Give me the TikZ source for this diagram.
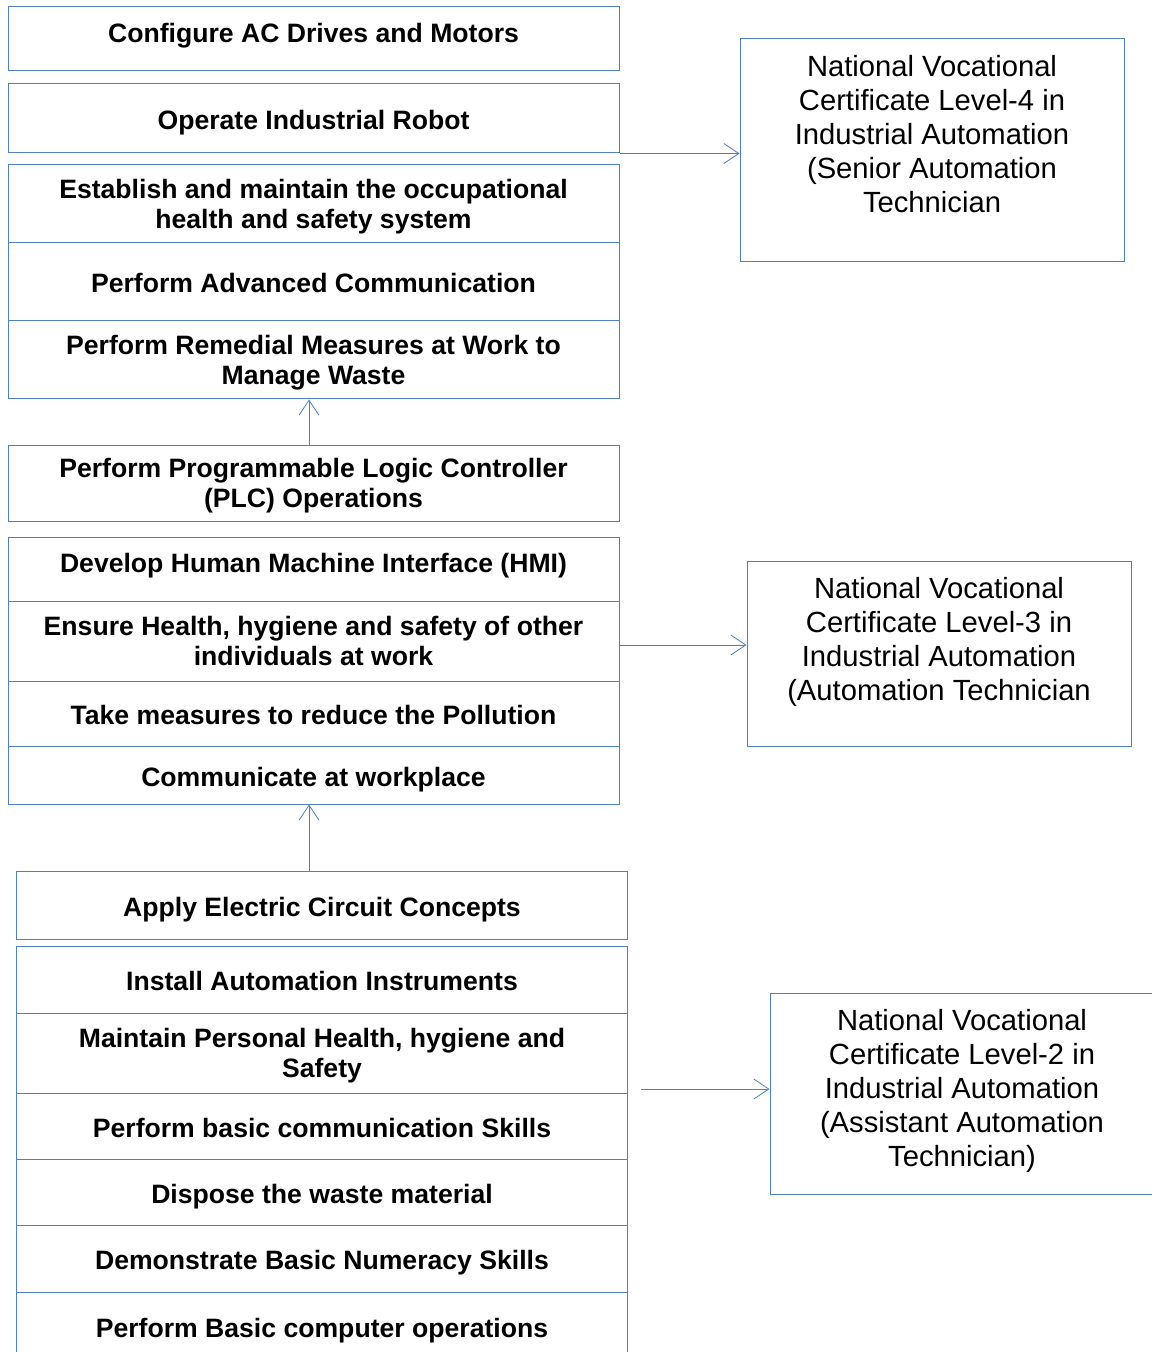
\documentclass[tikz,border=0pt]{standalone}
\usepackage{fontspec}
\setmainfont{Liberation Sans}
\usetikzlibrary{positioning, arrows.meta}
\definecolor{boxblue}{RGB}{79,129,189}

\begin{document}
\begin{tikzpicture}[
    x=0.5pt, y=-0.5pt,
    >={Straight Barb[length=7.5pt, width=10pt]},
    skill/.style={draw=boxblue, line width=0.5pt, minimum width=305.5pt, inner sep=0pt, align=center, font=\bfseries\fontsize{13.3}{15}\selectfont},
    oneline/.style={skill, text height=11pt, text depth=0pt},
    twoline/.style={skill, text depth=-2.5pt},
    cert/.style={draw=boxblue, line width=0.5pt, minimum width=192pt, inner sep=0pt},
    certtext/.style={align=center, inner sep=0pt, font=\fontsize{14.6}{17}\selectfont},
    flow/.style={->, draw=boxblue, line width=0.4pt},
]
\useasboundingbox (0,0) rectangle (1151,1352);

% Level-4 units
\node[oneline, minimum height=32pt, text height=3.5pt] (b1) at (313.5,39) {Configure AC Drives and Motors};
\node[oneline, minimum height=34.5pt] (b2) at (313.5,118.5) {Operate Industrial Robot};
\node[twoline, minimum height=39pt] (b3) at (313.5,204) {Establish and maintain the occupational\\health and safety system};
\node[oneline, minimum height=39pt] (b4) at (313.5,282) {Perform Advanced Communication};
\node[twoline, minimum height=39pt] (b5) at (313.5,360) {Perform Remedial Measures at Work to\\Manage Waste};

% Level-3 units
\node[twoline, minimum height=38pt] (b6) at (313.5,483) {Perform Programmable Logic Controller\\(PLC) Operations};
\node[oneline, minimum height=32pt, text height=3.5pt] (b7) at (313.5,569) {Develop Human Machine Interface (HMI)};
\node[twoline, minimum height=40pt] (b8) at (313.5,641) {Ensure Health, hygiene and safety of other\\individuals at work};
\node[oneline, minimum height=32.5pt] (b9) at (313.5,713.5) {Take measures to reduce the Pollution};
\node[oneline, minimum height=29pt] (b10) at (313.5,775) {Communicate at workplace};

% Level-2 units
\node[oneline, minimum height=34pt] (b11) at (322,905) {Apply Electric Circuit Concepts};
\node[oneline, minimum height=33.5pt] (b12) at (322,979.5) {Install Automation Instruments};
\node[twoline, minimum height=40pt] (b13) at (322,1053) {Maintain Personal Health, hygiene and\\Safety};
\node[oneline, minimum height=33pt] (b14) at (322,1126) {Perform basic communication Skills};
\node[oneline, minimum height=33pt] (b15) at (322,1192) {Dispose the waste material};
\node[oneline, minimum height=33.5pt] (b16) at (322,1258.5) {Demonstrate Basic Numeracy Skills};
\node[oneline, minimum height=34pt] (b17) at (322,1326) {Perform Basic computer operations};

% Certificates
\node[cert, minimum height=111.5pt] (l4) at (932,150.5) {};
\node[certtext, below=8pt of l4.north] (l4t) {National Vocational\\Certificate Level-4 in\\Industrial Automation\\(Senior Automation\\Technician};
\node[cert, minimum height=92.5pt] (l3) at (939,653.5) {};
\node[certtext, below=8pt of l3.north] (l3t) {National Vocational\\Certificate Level-3 in\\Industrial Automation\\(Automation Technician};
\node[cert, minimum height=100.5pt] (l2) at (962,1093.5) {};
\node[certtext, below=8pt of l2.north] (l2t) {National Vocational\\Certificate Level-2 in\\Industrial Automation\\(Assistant Automation\\Technician)};

% Progression arrows
\coordinate (up1) at ([xshift=-2.25pt]b5.south);
\coordinate (up2) at ([xshift=-2.25pt]b10.south);
\coordinate (l3in) at ([yshift=-2pt]b8.east);
\coordinate (l2in) at (641,1089);
\draw[flow] (up1 |- b6.north) -- (up1);
\draw[flow] (up2 |- b11.north) -- (up2);
\draw[flow] (b2.south east) -- (b2.south east -| l4.west);
\draw[flow] (l3in) -- (l3in -| l3.west);
\draw[flow] (l2in) -- (l2in -| l2.west);
\end{tikzpicture}
\end{document}
